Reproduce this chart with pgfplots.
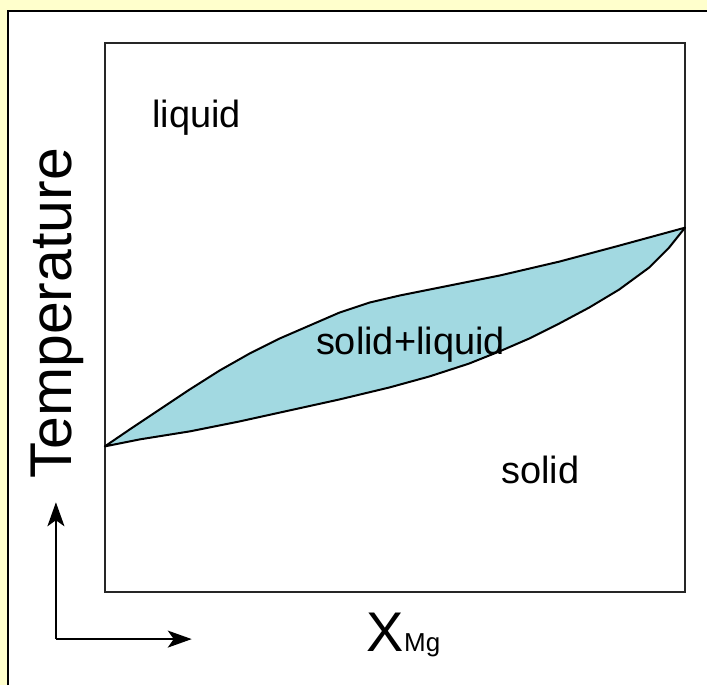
\documentclass[border=0pt]{standalone}
\usepackage{pgfplots}
\pgfplotsset{compat=1.18}
\usepackage{fontspec}
\setmainfont{Liberation Sans}
\usetikzlibrary{arrows.meta}
\definecolor{bgyellow}{HTML}{FFFFCC}
\definecolor{twophase}{HTML}{A2D9E1}
\begin{document}
\begin{tikzpicture}[x=1pt,y=1pt]
\fill[bgyellow] (0,0) rectangle (354,343);
\fill[white] (4.25,0) rectangle (354,337.5);
\draw[line width=1pt,black] (4.25,0) -- (4.25,337.5) -- (354,337.5);
\useasboundingbox (0,0) rectangle (354,343);
\node[rotate=90,font=\fontsize{29.5}{31}\selectfont] at (28.5,186) {Temperature};
\begin{axis}[
  at={(52.5pt,46.5pt)}, anchor=south west,
  width=290.5pt, height=275pt, scale only axis,
  xmin=105, xmax=686, ymin=-593, ymax=-43,
  ticks=none, clip=false,
  axis line style={line width=1.3pt, black!85},
]
\addplot[fill=twophase, draw=black, line width=1pt, line join=round] coordinates {
(105,-447)(130,-430)(160,-410)(190,-390)(220,-371)(250,-354)(280,-339)(310,-326)(340,-313)(370,-303)(400,-296)(440,-288)(500,-276)(560,-262)(620,-246)(686,-228)
(670,-248)(650,-268)(620,-290)(590,-308)(560,-324)(530,-339)(500,-352)(470,-364)(430,-377)(390,-388)(340,-400)(290,-411)(240,-422)(190,-432)(140,-440)(105,-447)
} -- cycle;
\node[anchor=base,font=\fontsize{19}{20}\selectfont] at (axis cs:197,-128) {liquid};
\node[anchor=base,font=\fontsize{19}{20}\selectfont] at (axis cs:411,-355) {solid+liquid};
\node[anchor=base,font=\fontsize{19}{20}\selectfont] at (axis cs:541,-484) {solid};
\node[anchor=base west,inner sep=0pt] at (axis cs:367,-652) {{\fontsize{28}{30}\selectfont X}{\fontsize{13}{14}\selectfont Mg}};
\draw[line width=1pt,-{Stealth[length=12pt,width=8.5pt,inset=3pt]}] (axis cs:56,-640) -- (axis cs:56,-503);
\draw[line width=1pt,-{Stealth[length=12pt,width=8.5pt,inset=3pt]}] (axis cs:56,-640) -- (axis cs:192,-640);
\end{axis}
\end{tikzpicture}
\end{document}
